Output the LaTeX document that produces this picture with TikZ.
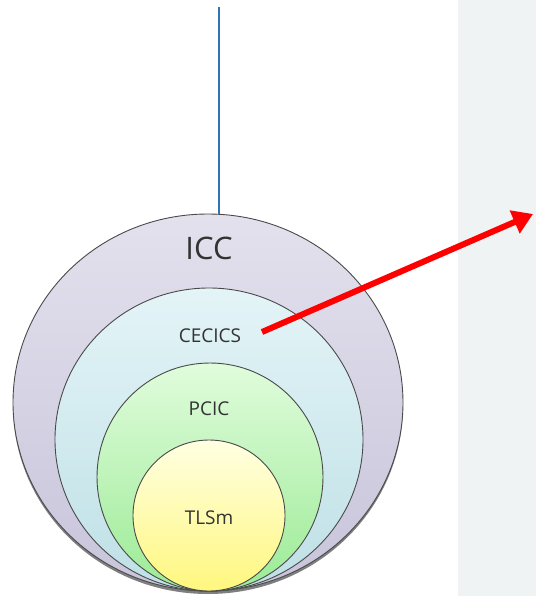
\documentclass[tikz,border=0pt]{standalone}
\usepackage{fontspec}
\setmainfont{Open Sans}
\usetikzlibrary{shapes.geometric,arrows.meta,shadows}
\definecolor{panelgray}{HTML}{EFF3F4}
\definecolor{lineblue}{HTML}{2E75B6}
\definecolor{txt}{HTML}{333333}
\definecolor{rim}{HTML}{4A4A4A}
\definecolor{iccTop}{HTML}{E3E1ED}
\definecolor{iccBot}{HTML}{C8C4DB}
\definecolor{ceTop}{HTML}{E4F4F7}
\definecolor{ceBot}{HTML}{BEE0E6}
\definecolor{pcTop}{HTML}{E0FCDC}
\definecolor{pcBot}{HTML}{9CEB96}
\definecolor{tlTop}{HTML}{FFFFE2}
\definecolor{tlBot}{HTML}{FFF77E}
\tikzset{
  ring/.style={ellipse, draw=rim, line width=0.9pt, inner sep=0pt},
  lbl/.style={text=txt, inner sep=0pt, font=\fontsize{19}{19}\selectfont},
}
\begin{document}
\begin{tikzpicture}[x=1pt,y=-1pt]
\useasboundingbox (0,0) rectangle (536,598);
\fill[white] (0,0) rectangle (536,598);
\fill[panelgray] (458,0) rectangle (536,596);
% rings
\node[ring, minimum width=390pt, minimum height=377pt, top color=iccTop, bottom color=iccBot,
  drop shadow={shadow xshift=0pt, shadow yshift=-3pt, opacity=0.5, fill=black}] (icc) at (208,402.5) {};
\node[ring, minimum width=308pt, minimum height=303pt, top color=ceTop, bottom color=ceBot] (cecics) at (209,439.5) {};
\node[ring, minimum width=226pt, minimum height=228pt, top color=pcTop, bottom color=pcBot] (pcic) at (210,477) {};
\node[ring, minimum width=152pt, minimum height=151pt, top color=tlTop, bottom color=tlBot] (tlsm) at (209,515.5) {};
% labels
\node[lbl, font=\fontsize{31}{31}\selectfont] (iccl) at (209,248) {ICC};
\node[lbl] (cecicsl) at (210,335.5) {CECICS};
\node[lbl] (pcicl) at (209,408.5) {PCIC};
\node[lbl] (tlsml) at (209,518) {TLSm};
% blue line
\coordinate (top) at (219,7);
\draw[lineblue, line width=1.5pt] (top) -- (icc.north -| top);
% red arrow
\coordinate (as) at (262,332);
\coordinate (ae) at (533,214);
\draw[red, line width=6pt, -{Triangle[length=20pt,width=24pt]}] (as) -- (ae);
\end{tikzpicture}
\end{document}
